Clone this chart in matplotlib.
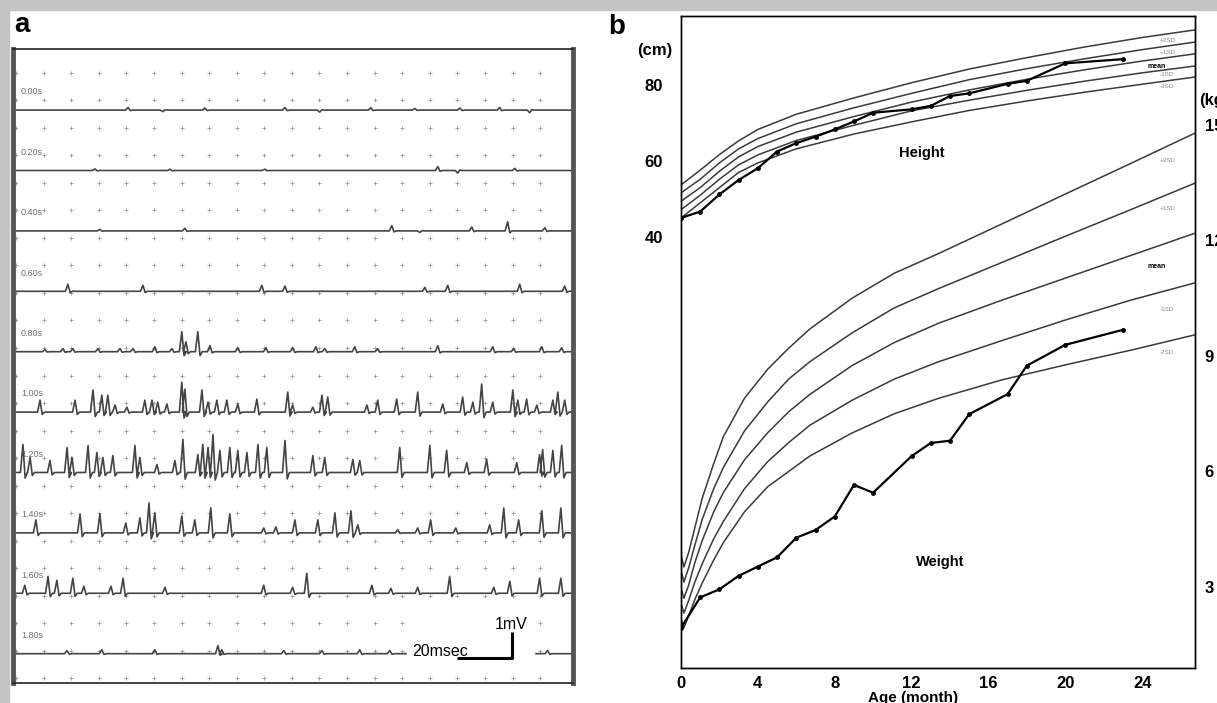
import matplotlib
matplotlib.use("Agg")
import matplotlib.pyplot as plt
from matplotlib.patches import Rectangle

W, H = 1217, 703

# ---------------- panel a : traces ----------------
row_labels = ["0.00s", "0.20s", "0.40s", "0.60s", "0.80s",
              "1.00s", "1.20s", "1.40s", "1.60s", "1.80s"]

# spikes per row: (time in ms, amplitude in mV)
spikes_0 = [(41.7, 0.10), (54.3, -0.06), (69.6, 0.08), (98.6, 0.10), (111.2, -0.08),
            (129.7, 0.09), (145.7, 0.06), (162.0, 0.08), (176.4, 0.10), (187.3, -0.10)]
spikes_1 = [(29.7, 0.06), (56.9, 0.05), (91.3, 0.05), (154.0, 0.15), (161.2, -0.10), (181.9, 0.08)]
spikes_2 = [(31.5, 0.06), (62.3, 0.10), (137.3, 0.20), (147.5, -0.06), (166.3, 0.15),
            (179.3, 0.35), (192.8, 0.12)]
spikes_3 = [(19.9, 0.27), (47.1, 0.23), (90.2, 0.23), (98.6, 0.20), (149.3, 0.15),
            (157.6, 0.23), (183.7, 0.27), (200.0, 0.20)]
spikes_4 = [(11.6, 0.08), (18.1, 0.12), (21.7, 0.12), (30.8, 0.12), (38.8, 0.12), (43.5, 0.12),
            (51.4, 0.19), (57.6, 0.12), (61.2, 0.77), (62.7, 0.38), (67.0, 0.77), (71.4, 0.23),
            (81.5, 0.15), (91.7, 0.15), (101.4, 0.15), (109.8, 0.19), (113.0, 0.12), (123.9, 0.19),
            (132.2, 0.12), (154.0, 0.23), (173.9, 0.19), (181.5, 0.12), (191.7, 0.19), (198.9, 0.15)]
spikes_5 = [(9.8, 0.46), (22.5, 0.46), (29.0, 0.85), (32.2, 0.65), (34.4, 0.65), (37.0, 0.27),
            (41.3, 0.19), (47.8, 0.46), (50.4, 0.46), (52.5, 0.38), (55.8, 0.31), (61.2, 1.15),
            (62.3, 0.88), (68.5, 0.85), (70.7, 0.38), (73.9, 0.46), (77.5, 0.46), (81.5, 0.31),
            (88.4, 0.50), (99.6, 0.77), (101.4, 0.27), (108.7, 0.19), (112.0, 0.65), (114.1, 0.58),
            (128.3, 0.27), (132.2, 0.46), (139.1, 0.50), (146.7, 0.77), (155.8, 0.31), (163.0, 0.58),
            (166.7, 0.38), (169.9, 1.08), (173.9, 0.38), (181.2, 0.85), (183.0, 0.46), (186.2, 0.50),
            (189.9, 0.27), (195.7, 0.46), (197.5, 0.77), (200.0, 0.46)]
spikes_6 = [(3.6, 1.08), (6.2, 0.58), (13.4, 0.46), (19.6, 0.96), (21.4, 0.58), (27.2, 1.04),
            (30.4, 0.77), (32.6, 0.58), (36.2, 0.65), (44.2, 1.04), (46.0, 0.58), (52.2, 0.31),
            (58.7, 0.46), (61.6, 1.27), (67.0, 0.69), (68.8, 1.08), (70.7, 0.96), (72.5, 1.46),
            (75.0, 0.85), (78.6, 0.96), (81.5, 0.85), (84.8, 0.77), (88.8, 1.08), (92.0, 0.96),
            (98.6, 1.23), (108.7, 0.65), (113.0, 0.58), (123.2, 0.50), (125.7, 0.46), (140.2, 0.96),
            (151.1, 1.04), (157.2, 0.85), (164.5, 0.38), (171.7, 0.50), (182.6, 0.38), (190.9, 0.69),
            (192.0, 0.88), (195.7, 0.85), (198.9, 1.04)]
spikes_7 = [(8.3, 0.50), (24.3, 0.73), (31.5, 0.73), (40.9, 0.38), (46.0, 0.58), (49.3, 1.15),
            (51.4, 0.77), (61.2, 0.65), (65.9, 0.50), (71.7, 0.96), (78.6, 0.73), (90.9, 0.19),
            (95.3, 0.23), (102.2, 0.50), (110.5, 0.50), (116.7, 0.77), (122.5, 0.85), (125.0, 0.31),
            (139.5, 0.12), (146.7, 0.19), (151.4, 0.50), (160.5, 0.19), (172.8, 0.31), (177.9, 0.96),
            (183.3, 0.50), (191.7, 0.85), (198.6, 0.96)]
spikes_8 = [(4.3, 0.31), (12.7, 0.65), (15.9, 0.50), (21.7, 0.58), (25.7, 0.27), (35.5, 0.27),
            (39.9, 0.58), (55.1, 0.23), (90.9, 0.31), (101.4, 0.23), (106.5, 0.77), (130.1, 0.31),
            (137.0, 0.19), (146.7, 0.23), (158.3, 0.65), (174.3, 0.23), (180.1, 0.46), (190.9, 0.58),
            (198.6, 0.58)]
spikes_9 = [(19.6, 0.12), (32.2, 0.15), (51.4, 0.15), (74.3, 0.31), (75.7, 0.15), (98.2, 0.12),
            (112.0, 0.12), (125.7, 0.15), (136.6, 0.12), (193.8, 0.12)]
row_spikes = [spikes_0, spikes_1, spikes_2, spikes_3, spikes_4,
              spikes_5, spikes_6, spikes_7, spikes_8, spikes_9]

# ---------------- panel b : growth chart ----------------
h_months = [0, 1, 2, 3, 4, 6, 9, 12, 15, 18, 21, 24, 26.75]
h_p2 = [53.7, 57.6, 61.7, 65.3, 68.3, 72.3, 76.6, 80.6, 84.2, 87.2, 90.0, 92.5, 94.5]
h_p1 = [51.6, 55.2, 59.5, 63.2, 65.9, 69.8, 74.0, 77.8, 81.4, 84.3, 86.9, 89.3, 91.3]
h_mean = [49.4, 53.0, 57.3, 61.1, 63.8, 67.6, 71.7, 75.5, 78.7, 81.5, 84.0, 86.3, 88.2]
h_m1 = [47.2, 51.0, 55.2, 59.0, 61.6, 65.4, 69.4, 73.2, 76.0, 78.6, 81.0, 83.2, 85.0]
h_m2 = [45.0, 49.0, 53.0, 57.0, 59.5, 63.2, 67.1, 70.3, 73.3, 75.8, 78.1, 80.2, 82.1]

w_months = [0.02, 0.15, 0.4, 0.7, 1.1, 1.7, 2.2, 3.3, 4.5, 5.6, 6.7, 8.9, 11.1, 13.4,
            16.7, 20.1, 23.4, 26.75]
w_p2 = [3.8, 3.52, 3.9, 4.5, 5.3, 6.2, 6.9, 7.9, 8.65, 9.2, 9.7, 10.5, 11.15, 11.66,
        12.43, 13.23, 14.0, 14.79]
w_p1 = [3.4, 3.13, 3.5, 4.05, 4.75, 5.55, 6.1, 7.05, 7.8, 8.4, 8.85, 9.6, 10.25, 10.75,
        11.43, 12.13, 12.8, 13.49]
w_mean = [2.95, 2.71, 3.05, 3.6, 4.2, 4.95, 5.45, 6.3, 7.0, 7.55, 8.0, 8.75, 9.35, 9.85,
          10.45, 11.04, 11.61, 12.19]
w_m1 = [2.55, 2.32, 2.65, 3.1, 3.6, 4.25, 4.7, 5.55, 6.25, 6.75, 7.2, 7.85, 8.4, 8.85,
        9.4, 9.95, 10.45, 10.9]
w_m2 = [2.15, 1.94, 2.25, 2.65, 3.1, 3.7, 4.15, 4.95, 5.6, 6.0, 6.4, 7.0, 7.5, 7.9,
        8.38, 8.78, 9.15, 9.55]

pat_h_months = [0, 1, 2, 3, 4, 5, 6, 7, 8, 9, 10, 12, 13, 14, 15, 17, 18, 20, 23]
pat_height = [45.0, 46.7, 51.2, 55.0, 58.1, 62.5, 64.7, 66.4, 68.3, 70.4, 72.7, 73.6, 74.5,
              77.1, 77.8, 80.3, 81.1, 85.7, 86.8]
pat_w_months = [0, 1, 2, 3, 4, 5, 6, 7, 8, 9, 10, 12, 13, 14, 15, 17, 18, 20, 23]
pat_weight = [1.94, 2.73, 2.94, 3.29, 3.53, 3.77, 4.28, 4.48, 4.83, 5.65, 5.45, 6.40, 6.74,
              6.80, 7.49, 8.01, 8.75, 9.29, 9.68]

sd_labels = ["+2SD", "+1SD", "mean", "-1SD", "-2SD"]

narrow = ["Liberation Sans Narrow", "Liberation Sans", "DejaVu Sans"]
sans = ["Liberation Sans", "DejaVu Sans"]

fig = plt.figure(figsize=(W / 100, H / 100), dpi=100)
fig.patch.set_facecolor("white")
fig.add_artist(Rectangle((0, 1 - 10 / H), 1, 10 / H, transform=fig.transFigure,
                         color="#c4c4c4", zorder=0))
fig.add_artist(Rectangle((0, 0), 9 / W, 1, transform=fig.transFigure,
                         color="#c4c4c4", zorder=0))

# ---- panel a ----
ax = fig.add_axes([13 / W, (H - 683) / H, 560 / W, 634 / H])
ax.set_xlim(0, 203)
ax.set_ylim(-634 / 26, 0)
ax.set_xticks([])
ax.set_yticks([])
for s in ["top", "bottom"]:
    ax.spines[s].set_color("#222")
    ax.spines[s].set_linewidth(1.2)
for s in ["left", "right"]:
    ax.spines[s].set_color("#555")
    ax.spines[s].set_linewidth(3.5)

gx = [1.1 + 10 * k for k in range(20)]
gy = [-(0.92 + 1.058 * k) for k in range(23)]
ax.plot([x for x in gx for _ in gy], [y for _ in gx for y in gy], ls="none",
        marker="+", ms=2.2, mew=0.6, color="#999999", zorder=1)

row0, row_step = 2.35, 2.323
for i, (lab, spk) in enumerate(zip(row_labels, row_spikes)):
    base = -(row0 + row_step * i)
    xs, ys = [0], [0]
    for t, a in sorted(spk):
        xs += [t - 0.9, t, t + 0.8, t + 1.6]
        ys += [0, a, -0.2 * a, 0]
    xs.append(203)
    ys.append(0)
    ax.plot(xs, [base + y for y in ys], color="#444444", lw=1.2, zorder=2)
    ax.text(2.9, base + 0.7, lab, fontsize=6.5, color="#707070", va="center",
            ha="left", family=sans)

# scale bar area
base9 = -(row0 + row_step * 9)
ax.add_patch(Rectangle((143, base9 - 0.35), 46, 1.9, color="white", zorder=3))
ax.plot([160.9, 180.8, 180.8], [base9 - 0.15, base9 - 0.15, base9 + 0.85],
        color="black", lw=2.2, zorder=4, solid_capstyle="butt")
ax.text(164.9, base9 - 0.22, "20msec", fontsize=11.5, ha="right", va="bottom",
        family=sans, zorder=5)
ax.text(180.5, base9 + 1.12, "1mV", fontsize=11.5, ha="center", va="center",
        family=sans, zorder=5)

fig.text(14 / W, 1 - 25 / H, "a", fontsize=20, fontweight="bold", ha="left", va="center",
         family=sans)

# ---- panel b ----
b_bottom = 668
axb = fig.add_axes([681 / W, (H - b_bottom) / H, 514 / W, (b_bottom - 16) / H])
axb.set_xlim(0, 26.75)
axb.set_ylim(80 - (b_bottom - 85) / 3.8, 80 + (85 - 16) / 3.8)
axw = axb.twinx()
axw.set_ylim((702.5 - b_bottom) / 38.5, (702.5 - 16) / 38.5)

curve_kw = dict(color="#3a3a3a", lw=1.1)
for vals in [h_p2, h_p1, h_mean, h_m1, h_m2]:
    axb.plot(h_months, vals, **curve_kw)
for vals in [w_p2, w_p1, w_mean, w_m1, w_m2]:
    axw.plot(w_months, vals, **curve_kw)

axb.plot(pat_h_months, pat_height, color="black", lw=1.6, marker="o", ms=2.5, zorder=5)
axw.plot(pat_w_months, pat_weight, color="black", lw=1.6, marker="o", ms=2.5, zorder=5)

axb.set_xticks([0, 4, 8, 12, 16, 20, 24])
axb.set_yticks([40, 60, 80])
axw.set_yticks([3, 6, 9, 12, 15])
axb.tick_params(axis="x", length=0, pad=6)
axb.tick_params(axis="y", length=0, pad=13)
axw.tick_params(axis="y", length=0, pad=7)
for lab in axb.get_xticklabels() + axb.get_yticklabels() + axw.get_yticklabels():
    lab.set_family(narrow)
    lab.set_fontweight("bold")
    lab.set_fontsize(12)
for a in (axb, axw):
    for s in a.spines.values():
        s.set_color("black")
        s.set_linewidth(1.0)

# SD labels near right end
h_lab_y = [41, 53, 66, 75, 87]
w_lab_y = [161, 208, 266, 310, 352]
for lab, yh, yw in zip(sd_labels, h_lab_y, w_lab_y):
    bold = lab == "mean"
    xx = 1147 if bold else 1160
    for yy in (yh, yw):
        fig.text(xx / W, 1 - yy / H, lab, fontsize=5 if bold else 4.5,
                 color="black" if bold else "#888", ha="left", va="center",
                 family=sans, fontweight="bold" if bold else "normal")

fig.text(922 / W, 1 - 153 / H, "Height", fontsize=10.5, fontweight="bold", ha="center",
         va="center", family=sans)
fig.text(940 / W, 1 - 562 / H, "Weight", fontsize=10.5, fontweight="bold", ha="center",
         va="center", family=sans)
fig.text(617 / W, 1 - 27 / H, "b", fontsize=20, fontweight="bold", ha="center", va="center",
         family=sans)
fig.text(655 / W, 1 - 50 / H, "(cm)", fontsize=12, fontweight="bold", ha="center",
         va="center", family=narrow)
fig.text(1199 / W, 1 - 100 / H, "(kg)", fontsize=12, fontweight="bold", ha="left",
         va="center", family=narrow)
fig.text(913 / W, 1 - 698 / H, "Age (month)", fontsize=11, fontweight="bold",
         ha="center", va="center", family=sans)

fig.savefig("out.png", dpi=100)
